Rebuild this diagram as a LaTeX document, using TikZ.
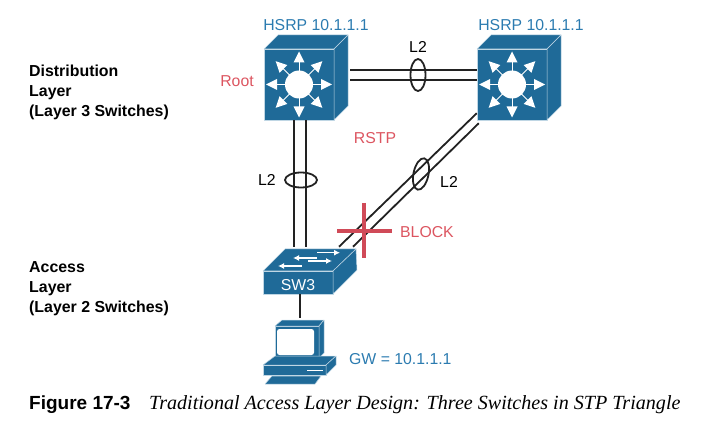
\documentclass[tikz,border=0pt]{standalone}
\usepackage{fontspec}
\setmainfont{Liberation Sans}
\newfontfamily\capfont{Liberation Serif}
\usetikzlibrary{shapes.geometric,arrows.meta}
\definecolor{swblue}{HTML}{1F6A98}
\definecolor{txtblue}{HTML}{2B7BB0}
\definecolor{txtred}{HTML}{DC5560}
\definecolor{crossred}{HTML}{D04A58}
\definecolor{edge}{HTML}{BFD6E4}
\definecolor{linkblack}{HTML}{222222}
\tikzset{
  face/.style={fill=swblue,draw=edge,line width=.5pt,line join=round},
  l3box/.style={face,minimum width=70pt,minimum height=71pt,inner sep=0pt},
  l2box/.style={face,minimum width=70pt,minimum height=23pt,inner sep=0pt,text=white,font=\fontsize{15.8}{15.8}\selectfont},
  pcbox/.style={face,minimum width=44pt,minimum height=32pt,inner sep=0pt},
  link/.style={draw=linkblack,line width=1.8pt},
  bundle/.style={ellipse,draw=linkblack,line width=1.8pt,inner sep=0pt,minimum width=15pt,minimum height=32pt},
  blue label/.style={text=txtblue,font=\fontsize{15.8}{15.8}\selectfont},
  red label/.style={text=txtred,font=\fontsize{15.8}{15.8}\selectfont},
  black label/.style={text=black,font=\fontsize{15.8}{15.8}\selectfont},
  layer label/.style={align=left,anchor=north west,inner sep=0pt,font=\fontsize{15.9}{20}\selectfont\bfseries},
  l2arrow/.style={white,line width=1.2pt,-{Latex[length=6pt,width=6pt]}},
  l3sw/.pic={
    \fill[face] (-35,-35.5)--(-21,-49.5)--(49,-49.5)--(35,-35.5)--cycle;
    \fill[face] (35,-35.5)--(49,-49.5)--(49,21.5)--(35,35.5)--cycle;
    \fill[white] (0,0) circle (14);
    \foreach \a in {0,45,...,315}{
      \begin{scope}[rotate=\a]
        \draw[white,line width=1pt] (13,0)--(23,0);
        \fill[white] (33,0)--(22,5.5)--(22,-5.5)--cycle;
      \end{scope}
    }
  },
  l2sw/.pic={
    \fill[face] (-35,-11.5)--(-13,-33.5)--(58,-33.5)--(35,-11.5)--cycle;
    \fill[face] (35,-11.5)--(58,-33.5)--(59,-12.5)--(35,11.5)--cycle;
    \draw[l2arrow] (19,-29.8)--(42,-29.8);
    \draw[l2arrow] (19,-24.5)--(-5,-24.5);
    \draw[l2arrow] (10,-21.5)--(34,-21.5);
    \draw[l2arrow] (4,-16.5)--(-20,-16.5);
  },
  pcset/.pic={
    % monitor
    \fill[face] (-22,-16)--(-15,-22)--(27,-22)--(22,-16)--cycle;
    \fill[face] (22,-16)--(27,-22)--(27,11)--(22,16)--cycle;
    \fill[white,rounded corners=2.5pt] (-20,-13) rectangle (17,13);
    % base
    \fill[face] (-34,23)--(-22,14)--(39,14)--(29,23)--cycle;
    \fill[face] (-34,23) rectangle (29,33);
    \fill[face] (29,23)--(39,14)--(39,23)--(29,33)--cycle;
    \draw[white,line width=1pt] (10,28)--(26,28);
    % keyboard
    \fill[face] (-25,34)--(24,34)--(18,42)--(-32,42)--cycle;
  }
}
\begin{document}
\begin{tikzpicture}[x=1pt,y=-1pt]
\useasboundingbox (0,0) rectangle (705,425);

% switches
\node[l3box] (rootsw) at (299,84.5) {};
\pic at (rootsw) {l3sw};
\node[l3box] (peersw) at (512,84.5) {};
\pic at (peersw) {l3sw};
\node[l2box] (sw3) at (298,282.5) {\raisebox{-8.5pt}[0pt][0pt]{SW3}};
\pic at (sw3) {l2sw};
\node[pcbox] (pc) at (297,342) {};
\pic at (pc) {pcset};

% links
\draw[link] ([xshift=16,yshift=14.5]rootsw.east)--([yshift=14.5]peersw.west);
\draw[link] ([xshift=16,yshift=4.5]rootsw.east)--([yshift=4.5]peersw.west);
\draw[link] ([xshift=-5]rootsw.south)--([xshift=-4,yshift=24]sw3.north);
\draw[link] ([xshift=7]rootsw.south)--([xshift=8,yshift=24]sw3.north);
\draw[link] ([yshift=7]peersw.south west)--([xshift=41,yshift=24]sw3.north);
\draw[link] ([xshift=2,yshift=-3]peersw.south west)--([xshift=55,yshift=24]sw3.north);
\draw[link] ([xshift=2]sw3.south)--([xshift=3,yshift=8]pc.north);

% bundles
\node[bundle] (bundletop) at (418,75) {};
\node[bundle,rotate=90] (bundleleft) at (301,180) {};
\node[bundle,rotate=-12] (bundlediag) at (421,174) {};

% blocked port
\coordinate (crossW) at (337,231);
\coordinate (crossE) at (392,231);
\coordinate (crossN) at (364,203);
\coordinate (crossS) at (364,258);
\draw[crossred,line width=3.5pt] (crossW)--(crossE);
\draw[crossred,line width=3.5pt] (crossN)--(crossS);

% labels
\node[blue label] (hsrproot) at (316,25) {HSRP 10.1.1.1};
\node[blue label] (hsrppeer) at (531,25) {HSRP 10.1.1.1};
\node[blue label,anchor=west,inner sep=0pt] (gwlabel) at (349,359) {GW = 10.1.1.1};
\node[red label] (rootlabel) at (237,81) {Root};
\node[red label] (rstplabel) at (375,138) {RSTP};
\node[red label,anchor=west,inner sep=0pt] (blocklabel) at (400,232) {BLOCK};
\node[black label] (ltop) at (418,47) {L2};
\node[black label] (lleft) at (267,180) {L2};
\node[black label] (ldiag) at (449,182) {L2};

\node[layer label] (distlabel) at (29,65) {Distribution\\Layer\\(Layer 3 Switches)};
\node[layer label] (acclabel) at (29,261) {Access\\Layer\\(Layer 2 Switches)};

% caption
\node[anchor=west,inner sep=0pt,font=\fontsize{19}{19}\selectfont\bfseries] (capnum) at (29,404.5) {Figure 17-3};
\node[anchor=west,inner sep=0pt,font=\fontsize{20.1}{20.1}\selectfont\capfont\itshape] (captext) at (149,404.5) {Traditional Access Layer Design: Three Switches in STP Triangle};

\end{tikzpicture}
\end{document}
